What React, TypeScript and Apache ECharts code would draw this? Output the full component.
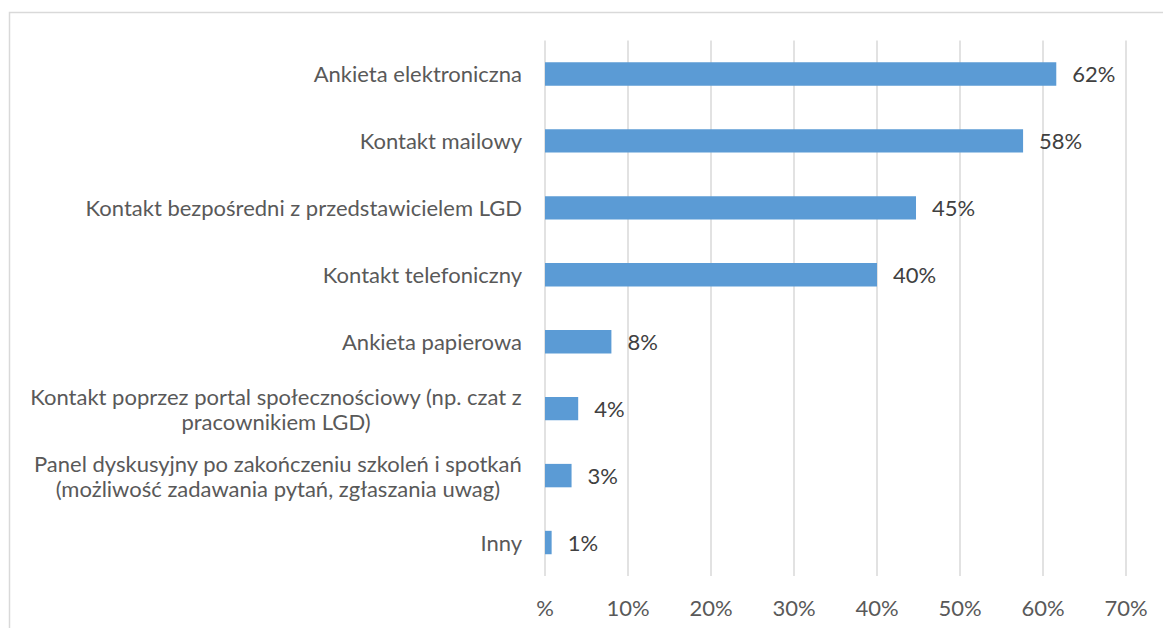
import React, { useEffect, useRef } from "react";
import * as echarts from "echarts";

const categories: string[] = [
  "Ankieta elektroniczna",
  "Kontakt mailowy",
  "Kontakt bezpośredni z przedstawicielem LGD",
  "Kontakt telefoniczny",
  "Ankieta papierowa",
  "Kontakt poprzez portal społecznościowy (np. czat z\npracownikiem LGD)",
  "Panel dyskusyjny po zakończeniu szkoleń i spotkań\n(możliwość zadawania pytań, zgłaszania uwag)",
  "Inny",
];
const values: number[] = [61.6, 57.6, 44.7, 40.0, 8.0, 4.0, 3.2, 0.8];
const valueLabels: string[] = ["62%", "58%", "45%", "40%", "8%", "4%", "3%", "1%"];
const tickLabels: string[] = ["%", "10%", "20%", "30%", "40%", "50%", "60%", "70%"];

const FONT = "Lato";
const FS = 22;

export default function App() {
  const ref = useRef<HTMLDivElement>(null);
  useEffect(() => {
    if (!ref.current) return;
    const chart = echarts.init(ref.current, null, { renderer: "svg" });
    chart.setOption({
      animation: false,
      backgroundColor: "#ffffff",
      textStyle: { fontFamily: FONT },
      graphic: [
        {
          type: "rect",
          shape: { x: 9.5, y: 12.5, width: 1300, height: 800 },
          style: { fill: "none", stroke: "#d9d9d9", lineWidth: 1.5 },
          silent: true,
        },
      ],
      grid: { left: 545, right: 37, top: 40.5, bottom: 52, containLabel: false },
      xAxis: {
        type: "value",
        min: 0,
        max: 70,
        interval: 10,
        axisLine: { show: false },
        axisTick: { show: false },
        splitLine: { show: true, lineStyle: { color: "#d9d9d9", width: 1.5 } },
        axisLabel: {
          margin: 20,
          color: "#595959",
          fontFamily: FONT,
          fontSize: FS,
          formatter: (v: number) => tickLabels[Math.round(v / 10)] ?? "",
        },
      },
      yAxis: {
        type: "category",
        inverse: true,
        data: categories,
        axisLine: { show: false },
        axisTick: { show: false },
        axisLabel: {
          margin: 23,
          align: "right",
          color: "#595959",
          fontFamily: FONT,
          fontSize: FS,
          lineHeight: 25,
          formatter: (v: string) =>
            v
              .split("\n")
              .map((l) => `{c|${l}}`)
              .join("\n"),
          rich: {
            c: {
              align: "center",
              color: "#595959",
              fontFamily: FONT,
              fontSize: FS,
              lineHeight: 25,
            },
          },
        },
      },
      series: [
        {
          type: "bar",
          data: values,
          barCategoryGap: "65%",
          itemStyle: { color: "#5b9bd5" },
          label: {
            show: true,
            position: "right",
            distance: 16,
            color: "#404040",
            fontFamily: FONT,
            fontSize: FS,
            formatter: (p: any) => valueLabels[p.dataIndex],
          },
        },
      ],
    });
    return () => chart.dispose();
  }, []);
  return (
    <div
      ref={ref}
      style={{ position: "fixed", left: 0, top: 0, width: 1163, height: 628 }}
    />
  );
}
